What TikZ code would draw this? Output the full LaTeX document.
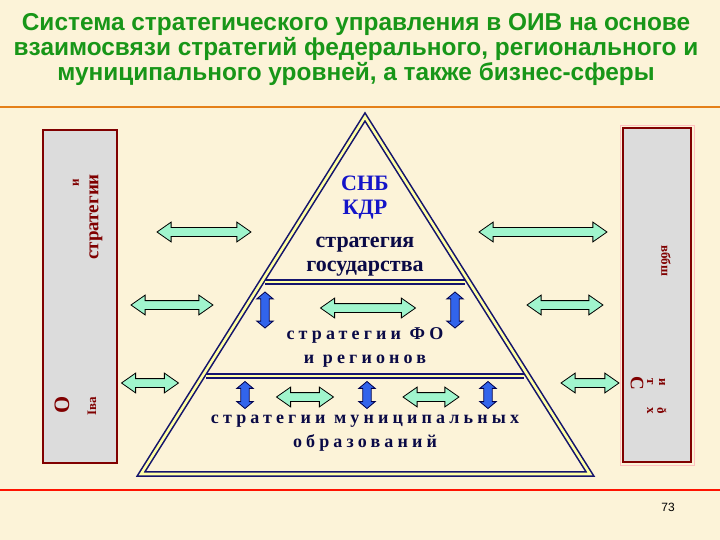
\documentclass[tikz,border=0pt]{standalone}
\usepackage{fontspec}
\setmainfont{Liberation Serif}
\newfontfamily\titlefont{Liberation Sans}
\usetikzlibrary{shapes.arrows}
\usetikzlibrary{positioning}
\definecolor{cream}{RGB}{252,243,216}
\definecolor{titlegreen}{RGB}{24,150,24}
\definecolor{navyline}{RGB}{20,20,110}
\definecolor{pyrfill}{RGB}{255,255,165}
\definecolor{arrgreen}{RGB}{160,245,205}
\definecolor{arrblue}{RGB}{50,100,235}
\definecolor{panelgray}{RGB}{220,220,220}
\definecolor{darkred}{RGB}{128,0,0}
\definecolor{txtblue}{RGB}{20,20,200}
\definecolor{txtnavy}{RGB}{10,10,70}
\tikzset{
  greenarr/.style = {double arrow, draw = black, fill = arrgreen, line width = 0.8pt,
    inner xsep = 0pt, inner ysep = 4pt, double arrow head extend = 5.5pt,
    double arrow tip angle = 70},
  bluearr/.style = {double arrow, draw = black!70!blue, fill = arrblue, line width = 0.8pt,
    shape border rotate = 90, inner xsep = 3.8pt, inner ysep = 0pt,
    double arrow head extend = 4pt, double arrow tip angle = 100},
  panel/.style = {draw = darkred, line width = 1.2pt, fill = panelgray},
  level/.style = {font = \fontsize{22}{24}\selectfont\bfseries, text = txtnavy, align = center},
  wide/.style = {font = \fontsize{18}{24}\selectfont\bfseries\addfontfeature{LetterSpace=23},
    text = txtnavy, align = center},
  side/.style = {font = \fontsize{19}{19}\selectfont\bfseries, text = darkred, inner sep = 0pt},
  glyph/.style = {side, font = \fontsize{13}{13}\selectfont\bfseries}
}
\begin{document}
\begin{tikzpicture}[x = 1pt, y = -1pt]
  \useasboundingbox (0, 0) rectangle (720, 540);
  \fill [cream] (0, 0) rectangle (720, 540);
  % title
  \node [font = \titlefont\fontsize{24.4}{25}\selectfont\bfseries, text = titlegreen,
    align = center] (title) at (356, 50)
    {Система стратегического управления в ОИВ на основе\\
     взаимосвязи стратегий федерального, регионального и\\
     муниципального уровней, а также бизнес-сферы};
  \draw [draw = orange!60!brown, line width = 1.5pt] (0, 107) -- (720, 107);
  \draw [draw = red!85!orange, line width = 1.5pt] (0, 490) -- (720, 490);
  \node [font = \titlefont\fontsize{12}{12}\selectfont] (pageno) at (668, 507) {73};
  % side panels
  \draw [panel] (43, 130) rectangle (117, 463);
  \draw [draw = red!25, line width = 0.8pt] (620, 125) rectangle (694, 465);
  \draw [panel] (623, 128) rectangle (691, 462);
  \node [side, rotate = 90] (lstrat) at (96, 217) {стратегии};
  \node [glyph, rotate = 90] (li) at (76, 183) {и};
  \node [side, rotate = 90, font = \fontsize{22}{22}\selectfont\bfseries] (lo) at (62, 405) {О};
  \node [glyph, rotate = 90] (lrest) at (92, 406) {Iвa};
  \node [side, rotate = -90] (rc) at (637, 383) {С};
  \node [glyph, rotate = -90] (rt) at (650, 382) {т};
  \node [glyph, rotate = -90] (ri) at (662, 382) {и};
  \node [glyph, rotate = -90] (rx) at (650, 411) {х};
  \node [glyph, rotate = -90] (rd) at (662, 411) {ð};
  \node [glyph, rotate = -90] (rtop) at (666, 261) {вббш};
  % pyramid
  \coordinate (apex) at (365, 117);
  \coordinate (bl) at (141, 474);
  \coordinate (br) at (590, 474);
  \draw [draw = navyline, line width = 1.6pt, double = pyrfill, double distance = 2.6pt,
    line join = miter] (apex) -- (bl) -- (br) -- cycle;
  \draw [draw = navyline, line width = 1.5pt, double = pyrfill, double distance = 2.4pt]
    (265, 282) -- (465, 282);
  \draw [draw = navyline, line width = 1.5pt, double = pyrfill, double distance = 2.4pt]
    (206, 376) -- (524, 376);
  % level texts
  \node [level, text = txtblue] (snb) at (365, 198) {СНБ\\КДР};
  \node [level] (gos) at (365, 257) {стратегия\\государства};
  \node [wide] (fo) at (365, 347) {стратегии ФО\\и регионов};
  \node [wide] (mun) at (365, 433) {стратегии муниципальных\\образований};
  % arrows outside
  \node [greenarr, minimum height = 94pt] (ltop) at (204, 232) {};
  \node [greenarr, minimum height = 82pt] (lmid) at (172, 305) {};
  \node [greenarr, minimum height = 57pt] (lbot) at (150, 383) {};
  \node [greenarr, minimum height = 128pt] (rtopa) at (543, 232) {};
  \node [greenarr, minimum height = 76pt] (rmid) at (565, 305) {};
  \node [greenarr, minimum height = 58pt] (rbot) at (590, 383) {};
  % arrows inside
  \node [greenarr, minimum height = 95pt] (fomid) at (368, 308) {};
  \node [greenarr, minimum height = 57pt] (munl) at (305, 397) {};
  \node [greenarr, minimum height = 56pt] (munr) at (431, 397) {};
  \node [bluearr, minimum height = 36pt] (fol) at (265, 310) {};
  \node [bluearr, minimum height = 36pt] (forr) at (455, 310) {};
  \node [bluearr, minimum height = 27pt] (mun1) at (245, 395) {};
  \node [bluearr, minimum height = 27pt] (mun2) at (367, 395) {};
  \node [bluearr, minimum height = 27pt] (mun3) at (488, 395) {};
\end{tikzpicture}
\end{document}
